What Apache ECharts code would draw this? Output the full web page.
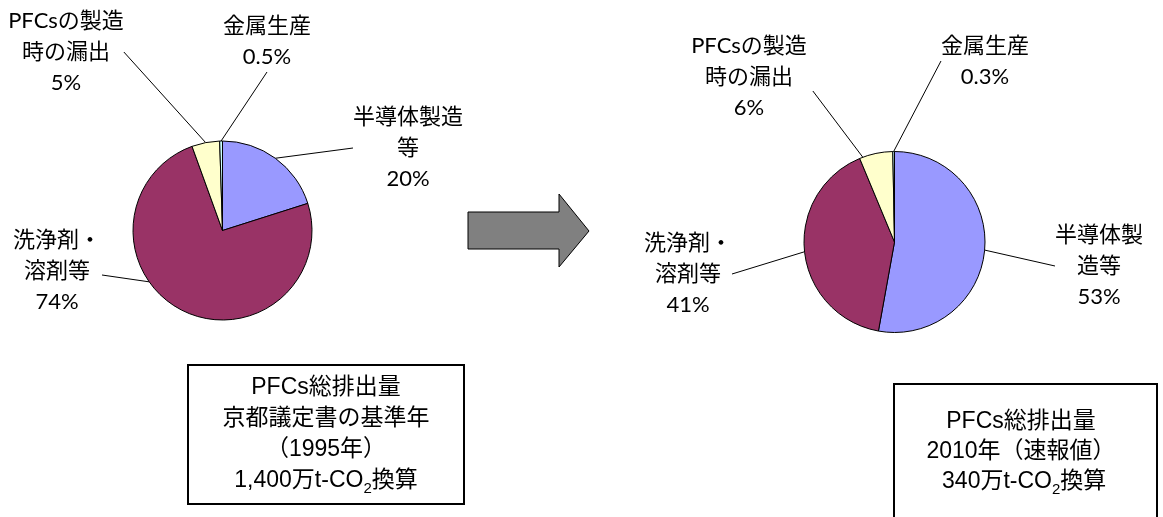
<!DOCTYPE html>
<html><head><meta charset="utf-8">
<script src="https://cdn.jsdelivr.net/npm/echarts@6/dist/echarts.min.js"></script>
<style>html,body{margin:0;padding:0;background:#fff}#c{width:1163px;height:517px}</style>
</head><body><div id="c"></div>
<script>
// ---- data ----
const categoriesLeft = ['半導体製造\n等', '洗浄剤・\n溶剤等', 'PFCsの製造\n時の漏出', '金属生産'];
const categoriesRight = ['半導体製\n造等', '洗浄剤・\n溶剤等', 'PFCsの製造\n時の漏出', '金属生産'];
const valuesLeft = [20, 74, 5, 0.5];
const valuesRight = [53, 41, 6, 0.3];
const boxTextLeft = ['PFCs総排出量', '京都議定書の基準年', '（1995年）'];
const boxTotalLeft = ['1,400万t-CO', '2', '換算'];
const boxTextRight = ['PFCs総排出量', '2010年（速報値）'];
const boxTotalRight = [' 340万t-CO', '2', '換算'];

// ---- layout / style ----
const sliceColors = ['#9999FF', '#993366', '#FFFFCC', '#CCFFFF'];
const pieLeft = { center: [222.5, 230.5], radius: 89.5 };
const pieRight = { center: [894.5, 242], radius: 90.5 };
const labelPosLeft = [[408, 148], [57, 271], [66, 52], [267, 41]];
const labelPosRight = [[1099, 266], [688, 274], [749, 77], [985, 61]];
// optional leader-line attachment overrides (angle on the rim, clockwise from 12 o'clock)
const leaderLeft = [null, { angle: 235, dx: 1, dy: 4 }, null, null];
const leaderRight = [null, null, { angle: 339.5, dx: 6, dy: 14 }, null];
const labelFont = "Lato, 'Noto Sans CJK JP', sans-serif";
const boxFont = "'Liberation Sans', 'Noto Sans CJK JP', sans-serif";

function pieSeries(names, values, pie, positions, leaders) {
  return {
    type: 'pie',
    center: pie.center,
    radius: pie.radius,
    startAngle: 90,
    clockwise: true,
    avoidLabelOverlap: false,
    animation: false,
    silent: true,
    itemStyle: { borderColor: '#000', borderWidth: 1 },
    label: {
      show: true,
      position: 'outside',
      alignTo: 'none',
      color: '#000',
      fontSize: 22,
      lineHeight: 31,
      fontFamily: labelFont,
      align: 'center',
      formatter: function (p) { return p.name + '\n' + p.value + '%'; }
    },
    labelLine: { show: true, length: 8, length2: 0, smooth: false,
      lineStyle: { color: '#000', width: 1 } },
    labelLayout: function (p) {
      const pos = positions[p.dataIndex];
      const out = { x: pos[0], y: pos[1], align: 'center', verticalAlign: 'middle' };
      const ld = leaders[p.dataIndex];
      if (ld) {
        const a = ld.angle * Math.PI / 180;
        const rim = [pie.center[0] + pie.radius * Math.sin(a), pie.center[1] - pie.radius * Math.cos(a)];
        const end = [pos[0] + p.labelRect.width / 2 + ld.dx, pos[1] + ld.dy];
        out.labelLinePoints = [rim, end, end];
      }
      return out;
    },
    data: names.map(function (n, i) {
      return { name: n, value: values[i], itemStyle: { color: sliceColors[i] } };
    })
  };
}

function boxText(lines, total) {
  return lines.join('\n') + '\n{n|' + total[0] + '}{sub|' + total[1] + '}{n|' + total[2] + '}';
}
function boxRich(lh) {
  return { n: { fontSize: 23, fontFamily: boxFont, lineHeight: lh, fill: '#000' },
           sub: { fontSize: 15, fontFamily: boxFont, lineHeight: 15, verticalAlign: 'bottom', fill: '#000' } };
}

const chart = echarts.init(document.getElementById('c'), null, { renderer: 'canvas' });
chart.setOption({
  backgroundColor: '#fff',
  animation: false,
  series: [
    pieSeries(categoriesLeft, valuesLeft, pieLeft, labelPosLeft, leaderLeft),
    pieSeries(categoriesRight, valuesRight, pieRight, labelPosRight, leaderRight)
  ],
  graphic: [
    { type: 'polygon', silent: true,
      shape: { points: [[468, 212], [559, 212], [559, 194], [589, 231], [559, 267], [559, 249], [468, 249]] },
      style: { fill: '#808080', stroke: '#000', lineWidth: 1 } },
    { type: 'rect', silent: true, shape: { x: 188, y: 365, width: 276, height: 139 },
      style: { fill: '#fff', stroke: '#000', lineWidth: 2 } },
    { type: 'text', silent: true, x: 326, y: 434.5,
      style: { text: boxText(boxTextLeft, boxTotalLeft), fill: '#000',
        fontSize: 23, fontFamily: boxFont, lineHeight: 31, align: 'center', verticalAlign: 'middle',
        rich: boxRich(31) } },
    { type: 'rect', silent: true, shape: { x: 894, y: 384, width: 263, height: 150 },
      style: { fill: '#fff', stroke: '#000', lineWidth: 2 } },
    { type: 'text', silent: true, x: 1021, y: 452,
      style: { text: boxText(boxTextRight, boxTotalRight), fill: '#000',
        fontSize: 23, fontFamily: boxFont, lineHeight: 30, align: 'center', verticalAlign: 'middle',
        rich: boxRich(30) } }
  ]
});
</script>
</body></html>
